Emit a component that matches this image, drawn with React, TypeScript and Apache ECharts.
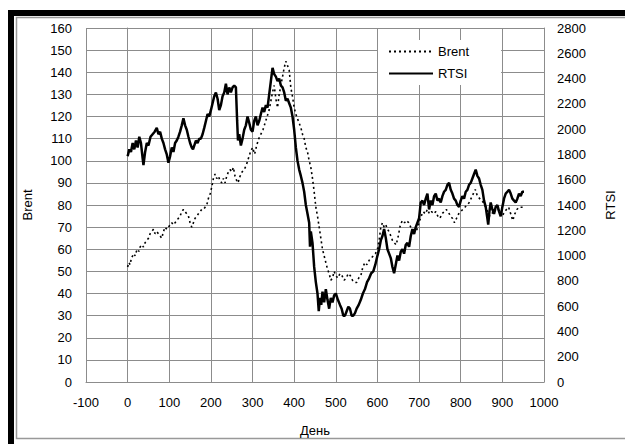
import React, { useEffect, useRef } from "react";
import * as echarts from "echarts";

const rtsiDays = [0,4,8,12,16,20,24,28,32,36,38,42,46,50,55,60,65,70,74,78,82,86,90,94,98,102,106,110,114,118,122,126,130,134,138,142,146,150,154,157,160,164,168,172,176,180,184,188,192,196,200,204,208,212,216,220,224,228,232,236,240,244,248,252,256,260,263,265,268,272,276,280,284,288,292,296,300,304,308,312,316,320,324,328,332,336,340,344,348,352,356,360,364,368,372,376,380,384,388,392,396,400,404,408,412,416,420,424,428,432,436,438,440,444,448,452,456,459,462,465,468,472,476,480,484,488,492,496,500,505,510,514,518,522,526,530,534,538,542,546,550,555,560,565,570,575,580,585,590,595,600,604,608,612,616,620,624,628,632,636,640,644,648,652,656,660,664,668,672,676,680,684,688,692,696,700,704,708,712,716,720,724,728,732,736,740,744,748,752,756,760,764,768,772,776,780,784,788,792,796,800,804,808,812,816,820,824,828,832,836,840,844,848,852,856,860,864,866,869,872,876,880,884,888,892,896,900,904,908,912,916,920,924,928,932,936,940,944,948,952];
const rtsiValues = [1785,1840,1820,1890,1840,1910,1855,1940,1890,1770,1715,1820,1890,1870,1940,1960,1980,2010,1960,1980,1925,1890,1840,1800,1735,1785,1855,1820,1890,1910,1940,1980,2030,2085,2030,1995,1940,1890,1855,1840,1870,1910,1890,1925,1925,1960,2010,2065,2120,2100,2150,2205,2260,2290,2240,2150,2190,2260,2290,2360,2275,2330,2290,2330,2345,2330,2065,1910,1960,1870,1925,1995,2030,2100,2050,1995,1980,2065,2100,2030,2065,2120,2170,2135,2190,2170,2275,2380,2485,2435,2415,2380,2400,2345,2330,2290,2225,2240,2205,2170,2100,1995,1855,1750,1680,1630,1575,1505,1400,1330,1260,1070,1190,1100,910,790,700,560,665,610,715,630,735,650,580,665,630,685,700,650,610,580,525,525,560,595,580,525,525,545,580,610,650,700,735,790,820,860,875,930,1000,1050,1120,1155,1210,1140,1050,1015,980,910,860,930,1000,960,1030,1050,1015,1085,1100,1070,1155,1210,1170,1225,1260,1295,1420,1435,1400,1450,1490,1365,1435,1400,1470,1490,1435,1450,1420,1470,1505,1520,1560,1575,1520,1490,1450,1435,1400,1385,1435,1470,1450,1505,1520,1560,1575,1610,1645,1680,1630,1610,1560,1520,1435,1385,1295,1245,1350,1420,1365,1330,1385,1400,1350,1310,1385,1450,1490,1505,1520,1490,1450,1435,1420,1450,1490,1470,1505,1505];

const brentDays = [0,3,6,9,12,15,18,21,24,27,30,34,38,42,46,50,54,58,62,66,70,74,78,82,86,90,94,98,102,106,110,114,118,122,126,130,134,138,142,146,150,154,158,162,166,170,174,178,182,186,190,194,198,202,206,210,214,218,222,226,230,234,238,242,246,250,254,258,262,265,270,275,280,285,290,295,300,305,310,315,320,325,330,335,340,344,348,352,356,360,364,368,372,376,380,384,388,392,396,400,404,408,412,416,420,424,428,432,436,440,444,448,452,456,460,464,468,472,476,480,484,488,492,496,500,505,510,515,520,525,530,535,540,545,550,555,560,565,570,575,580,585,590,595,600,604,608,612,616,620,624,628,632,636,640,645,650,655,660,665,670,675,680,685,690,695,700,705,710,715,720,725,730,735,740,745,750,755,760,765,770,775,780,785,790,795,800,805,810,815,820,825,830,835,840,845,850,855,860,865,870,875,880,885,890,895,900,905,910,915,920,925,930,935,940,945,950];
const brentValues = [52,54,53,56,57,58,57,59,60,59,61,62,61,63,64,65,67,68,69,67,68,67,66,65,68,70,69,70,71,72,71,72,73,74,75,77,78,77,76,75,72,70,72,74,75,76,77,78,78,79,80,83,85,88,92,94,92,93,91,90,92,90,93,95,96,95,97,93,91,90,93,95,96,98,101,104,106,103,107,110,112,114,117,120,123,127,131,134,128,124,130,134,138,142,145,143,141,133,129,124,121,119,117,115,112,110,106,104,100,97,92,86,79,75,70,65,60,57,54,51,49,46,47,50,48,47,49,48,46,47,49,48,46,45,45,47,48,52,54,53,55,56,57,58,60,64,70,72,70,71,69,68,66,64,63,62,66,71,73,72,73,72,70,69,68,69,72,75,77,76,78,76,77,76,77,75,74,76,77,78,77,75,74,72,74,76,77,78,79,80,81,83,85,87,84,83,82,81,79,77,75,76,78,77,78,76,75,77,78,79,76,73,76,78,79,79,79];

const xTicks = { min: -100, max: 1000, interval: 100 };
const leftTicks = { min: 0, max: 160, interval: 10 };
const rightTicks = { min: 0, max: 2800, interval: 200 };

const FONT = "Liberation Sans, Arial, sans-serif";

export default function App() {
  const ref = useRef<HTMLDivElement>(null);
  useEffect(() => {
    document.body.style.margin = "0";
    const chart = echarts.init(ref.current!, null, { renderer: "svg" });
    const brentData = brentDays.map((d, i) => [d, brentValues[i]]);
    const rtsiData = rtsiDays.map((d, i) => [d, rtsiValues[i]]);
    const fmt = (v: number) => String(v);
    const axisLabel = { color: "#000", fontSize: 13, fontFamily: FONT, formatter: fmt };
    const gridLine = { show: true, lineStyle: { color: "#8c8c8c", width: 1 } };
    chart.setOption({
      animation: false,
      backgroundColor: "#fff",
      textStyle: { fontFamily: FONT },
      graphic: [
        { type: "rect", z: -10, shape: { x: 8, y: 10, width: 640, height: 460 }, style: { fill: "#000" } },
        { type: "rect", z: -9, shape: { x: 14, y: 16, width: 640, height: 460 }, style: { fill: "#fff" } },
        { type: "rect", z: -8, shape: { x: 16.5, y: 17.5, width: 640, height: 421 }, style: { fill: "#fff", stroke: "#999", lineWidth: 1.5 } },
      ],
      grid: { left: 86, right: 81, top: 28, bottom: 62, containLabel: false },
      legend: {
        orient: "vertical",
        left: 378,
        top: 40,
        padding: [5, 32, 5, 10],
        itemGap: 9,
        itemWidth: 44,
        itemHeight: 14,
        backgroundColor: "#fff",
        itemStyle: { color: "rgba(0,0,0,0)", borderWidth: 0, opacity: 0 },
        textStyle: { color: "#000", fontSize: 13, fontFamily: FONT },
        data: ["Brent", "RTSI"],
      },
      xAxis: {
        type: "value",
        ...xTicks,
        name: "День",
        nameLocation: "middle",
        nameGap: 42,
        nameTextStyle: { color: "#000", fontSize: 13, fontFamily: FONT },
        axisLine: { show: true, lineStyle: { color: "#8c8c8c" } },
        axisTick: { show: false },
        axisLabel: { ...axisLabel, margin: 14 },
        splitLine: gridLine,
      },
      yAxis: [
        {
          type: "value",
          ...leftTicks,
          name: "Brent",
          nameLocation: "middle",
          nameGap: 52,
          nameRotate: 90,
          nameTextStyle: { color: "#000", fontSize: 13, fontFamily: FONT },
          axisLine: { show: true, lineStyle: { color: "#8c8c8c" } },
          axisTick: { show: false },
          axisLabel: { ...axisLabel, margin: 14 },
          splitLine: gridLine,
        },
        {
          type: "value",
          ...rightTicks,
          name: "RTSI",
          nameLocation: "middle",
          nameGap: 60,
          nameRotate: 90,
          nameTextStyle: { color: "#000", fontSize: 13, fontFamily: FONT },
          position: "right",
          axisLine: { show: true, lineStyle: { color: "#8c8c8c" } },
          axisTick: { show: false },
          axisLabel: { ...axisLabel, margin: 13 },
          splitLine: { show: false },
        },
      ],
      series: [
        {
          name: "Brent",
          type: "line",
          yAxisIndex: 0,
          data: brentData,
          symbol: "none",
          lineStyle: { color: "#000", width: 1.6, type: [2, 3] },
          itemStyle: { color: "#000" },
          z: 3,
        },
        {
          name: "RTSI",
          type: "line",
          yAxisIndex: 1,
          data: rtsiData,
          symbol: "none",
          lineStyle: { color: "#000", width: 2.5 },
          itemStyle: { color: "#000" },
          z: 4,
        },
      ],
    });
    return () => chart.dispose();
  }, []);
  return <div ref={ref} style={{ width: 625, height: 444 }} />;
}
